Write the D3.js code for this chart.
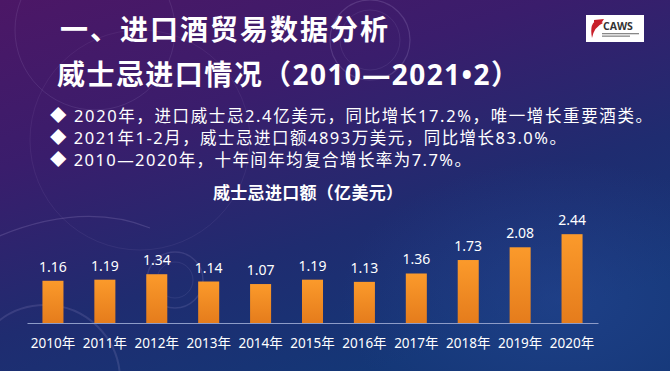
<!DOCTYPE html>
<html>
<head>
<meta charset="utf-8">
<script src="https://cdn.jsdelivr.net/npm/d3@7"></script>
<style>
html,body{margin:0;padding:0;background:#2a1d6a;}
svg{display:block;}
text{font-family:"Noto Sans","Noto Sans CJK SC",sans-serif;}
</style>
</head>
<body>
<svg id="chart" width="670" height="371"></svg>
<script>
const years = ["2010","2011","2012","2013","2014","2015","2016","2017","2018","2019","2020"];
const values = [1.16,1.19,1.34,1.14,1.07,1.19,1.13,1.36,1.73,2.08,2.44];
const valueLabels = ["1.16","1.19","1.34","1.14","1.07","1.19","1.13","1.36","1.73","2.08","2.44"];
const title1 = "一、进口酒贸易数据分析";
const title2 = "威士忌进口情况（2010—2021•2）";
const bullets = [
  "◆ 2020年，进口威士忌2.4亿美元，同比增长17.2%，唯一增长重要酒类。",
  "◆ 2021年1-2月，威士忌进口额4893万美元，同比增长83.0%。",
  "◆ 2010—2020年，十年间年均复合增长率为7.7%。"
];
const chartTitle = "威士忌进口额（亿美元）";
const yearSuffix = "年";

const svg = d3.select("#chart");
const W = 670, H = 371;
const defs = svg.append("defs");
const FONT = "'Noto Sans','Noto Sans CJK SC',sans-serif";

// background gradient
const bg = defs.append("linearGradient").attr("id","bg")
  .attr("x1","0").attr("y1","0").attr("x2","0.55").attr("y2","1");
bg.append("stop").attr("offset","0").attr("stop-color","#4c1766");
bg.append("stop").attr("offset","0.35").attr("stop-color","#3a1d6c");
bg.append("stop").attr("offset","0.7").attr("stop-color","#1f2c70");
bg.append("stop").attr("offset","1").attr("stop-color","#143777");
svg.append("rect").attr("width",W).attr("height",H).attr("fill","url(#bg)");

const glow = defs.append("radialGradient").attr("id","glow");
glow.append("stop").attr("offset","0").attr("stop-color","#2a4a9a").attr("stop-opacity",0.45);
glow.append("stop").attr("offset","1").attr("stop-color","#2a4a9a").attr("stop-opacity",0);
svg.append("ellipse").attr("cx",560).attr("cy",300).attr("rx",220).attr("ry",140).attr("fill","url(#glow)");

// decorative arcs
const deco = svg.append("g").attr("fill","none").attr("stroke","#c9b8e8");
deco.append("circle").attr("cx",370).attr("cy",40).attr("r",40).attr("stroke-opacity",0.18).attr("stroke-width",1.2);
deco.append("circle").attr("cx",370).attr("cy",40).attr("r",30).attr("stroke-opacity",0.1);
deco.append("circle").attr("cx",95).attr("cy",30).attr("r",80).attr("stroke-opacity",0.12);
deco.append("circle").attr("cx",175).attr("cy",280).attr("r",28).attr("stroke-opacity",0.14).attr("stroke-width",1.5);
deco.append("circle").attr("cx",175).attr("cy",280).attr("r",18).attr("stroke-opacity",0.1);
deco.append("circle").attr("cx",45).attr("cy",380).attr("r",75).attr("stroke-opacity",0.14).attr("stroke-width",2);
deco.append("path").attr("d","M -10 240 Q 80 200 150 228").attr("stroke-opacity",0.18).attr("stroke-width",1.2);
deco.append("circle").attr("cx",140).attr("cy",140).attr("r",110).attr("stroke-opacity",0.08);

// titles
svg.append("text").attr("x",60).attr("y",40).attr("fill","#ffffff")
  .style("font-family",FONT)
  .attr("font-size",28).attr("font-weight","bold")
  .attr("textLength",328).attr("lengthAdjust","spacing").text(title1);
svg.append("text").attr("x",57).attr("y",85).attr("fill","#ffffff")
  .style("font-family",FONT)
  .attr("font-size",28).attr("font-weight","bold")
  .attr("textLength",462).attr("lengthAdjust","spacing").text(title2);

// bullets
const bulletEnds = [652, 566, 471];
svg.selectAll("text.bullet").data(bullets).join("text").attr("class","bullet")
  .attr("x",50).attr("y",(d,i)=>122+i*22)
  .style("font-family",FONT)
  .attr("fill","#ffffff").attr("font-size",16.5)
  .attr("textLength",(d,i)=>bulletEnds[i]-50).attr("lengthAdjust","spacing")
  .text(d=>d);

// chart title
svg.append("text").attr("x",213).attr("y",199).attr("fill","#ffffff")
  .style("font-family",FONT)
  .attr("font-size",17).attr("font-weight","bold")
  .attr("textLength",190).attr("lengthAdjust","spacing").text(chartTitle);

// logo
const logo = svg.append("g");
logo.append("rect").attr("x",586).attr("y",15).attr("width",58).attr("height",27).attr("fill","#ffffff");
logo.append("path").attr("d","M 598 20 Q 589 22 592 38 Q 594 27 603 23 Z").attr("fill","#c8202a");
logo.append("path").attr("d","M 594 20 L 604 19 L 602 22 L 594 22 Z").attr("fill","#c8202a");
logo.append("text").attr("x",603).attr("y",30).attr("font-size",10.5).attr("font-weight","bold")
  .attr("fill","#333").style("font-family","'Open Sans','Noto Sans',sans-serif").text("CAWS");
logo.append("rect").attr("x",602).attr("y",33).attr("width",37).attr("height",1.3).attr("fill","#888");
logo.append("rect").attr("x",602).attr("y",35.5).attr("width",28).attr("height",1.3).attr("fill","#888");

// chart
const x = d3.scaleBand().domain(years).range([27,598]).paddingInner(0.595).paddingOuter(0.2975);
const y = d3.scaleLinear().domain([0,2.5]).range([323,323-91]);

const grad = defs.append("linearGradient").attr("id","bar").attr("x1",0).attr("y1",0).attr("x2",0).attr("y2",1);
grad.append("stop").attr("offset","0").attr("stop-color","#fb9a2b");
grad.append("stop").attr("offset","1").attr("stop-color","#e57c1c");

svg.append("g").selectAll("rect").data(values).join("rect")
  .attr("x",(d,i)=>x(years[i])).attr("width",x.bandwidth())
  .attr("y",d=>y(d)).attr("height",d=>y(0)-y(d))
  .attr("fill","url(#bar)");

svg.append("g").selectAll("text").data(values).join("text")
  .attr("x",(d,i)=>x(years[i])+x.bandwidth()/2).attr("y",d=>y(d)-9)
  .attr("text-anchor","middle").attr("fill","#ffffff").attr("font-size",14)
  .style("font-family",FONT)
  .text((d,i)=>valueLabels[i]);

const axis = svg.append("g").attr("transform",`translate(0,${y(0)})`)
  .call(d3.axisBottom(x).tickSize(0).tickSizeOuter(0).tickPadding(15).tickFormat(d=>d+yearSuffix));
axis.attr("font-family",null);
axis.select(".domain").attr("stroke","#8d9cc8").attr("stroke-width",1.2);
axis.selectAll(".tick text").attr("fill","#ffffff").attr("font-size",13.5)
  .style("font-family",FONT);
</script>
</body>
</html>
